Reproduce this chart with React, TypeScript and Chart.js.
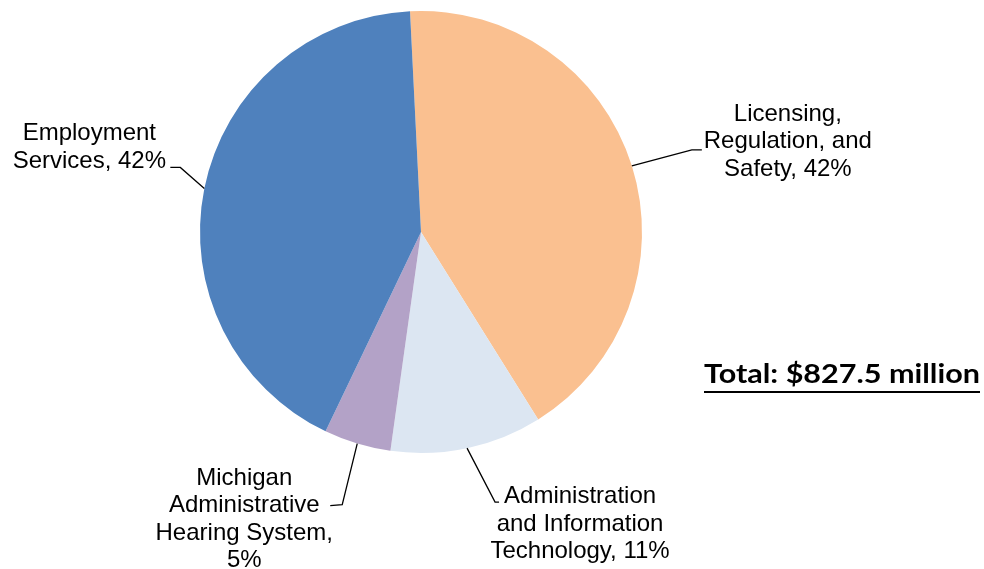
import React, { useEffect, useRef } from "react";
import { Chart, registerables } from "chart.js";

Chart.register(...registerables);

const categories = [
  "Licensing, Regulation, and Safety",
  "Administration and Information Technology",
  "Michigan Administrative Hearing System",
  "Employment Services",
];
const values = [346.7, 91.9, 40.5, 348.4];
const labelLines = [
  ["Licensing,", "Regulation, and", "Safety, 42%"],
  ["Administration", "and Information", "Technology, 11%"],
  ["Michigan", "Administrative", "Hearing System,", "5%"],
  ["Employment", "Services, 42%"],
];
const colors = ["#FAC090", "#DCE6F2", "#B3A2C7", "#4F81BD"];
const totalText = "Total: $827.5 million";

// layout offsets relative to each slice's outer mid-point (styling only)
const leaderLayout = [
  { elbow: [60, -16], end: [70, -16], text: [156, -24] },
  { elbow: [28, 54], end: [32, 54], text: [113, 76] },
  { elbow: [-15, 61], end: [-27, 62], text: [-113, 76] },
  { elbow: [-24, -21], end: [-34, -21], text: [-115, -41] },
];

const labelPlugin = {
  id: "leaderLabels",
  afterDraw(chart: any) {
    const ctx = chart.ctx as CanvasRenderingContext2D;
    const meta = chart.getDatasetMeta(0);
    ctx.save();
    meta.data.forEach((arc: any, i: number) => {
      const mid = (arc.startAngle + arc.endAngle) / 2;
      const ex = arc.x + Math.cos(mid) * arc.outerRadius;
      const ey = arc.y + Math.sin(mid) * arc.outerRadius;
      const L = leaderLayout[i];
      ctx.strokeStyle = "#000";
      ctx.lineWidth = 1.3;
      ctx.beginPath();
      ctx.moveTo(ex, ey);
      ctx.lineTo(ex + L.elbow[0], ey + L.elbow[1]);
      ctx.lineTo(ex + L.end[0], ey + L.end[1]);
      ctx.stroke();
      const lines = labelLines[i];
      const lh = 27.5;
      const cx = ex + L.text[0];
      const cy = ey + L.text[1];
      ctx.fillStyle = "#000";
      ctx.font = "24px 'Liberation Sans', Arial, sans-serif";
      ctx.textAlign = "center";
      ctx.textBaseline = "middle";
      lines.forEach((t, k) => {
        ctx.fillText(t, cx, cy + (k - (lines.length - 1) / 2) * lh);
      });
    });
    // total
    ctx.font = "bold 26px Lato, 'Open Sans', sans-serif";
    ctx.textAlign = "left";
    ctx.textBaseline = "alphabetic";
    const w = ctx.measureText(totalText).width;
    const targetW = 276;
    const left = 704;
    ctx.save();
    ctx.translate(left, 383);
    ctx.scale(targetW / w, 1);
    ctx.fillText(totalText, 0, 0);
    ctx.restore();
    ctx.fillRect(left, 391, targetW, 2);
    ctx.restore();
  },
};

export default function App() {
  const ref = useRef<HTMLCanvasElement | null>(null);
  useEffect(() => {
    if (!ref.current) return;
    const chart = new Chart(ref.current, {
      type: "pie",
      data: {
        labels: categories,
        datasets: [
          {
            data: values,
            backgroundColor: colors,
            borderWidth: 0,
          },
        ],
      },
      options: {
        animation: false,
        responsive: false,
        rotation: -2.85,
        layout: { padding: { left: 200, top: 11, right: 342, bottom: 116 } },
        plugins: {
          legend: { display: false },
          tooltip: { enabled: false },
          title: { display: false },
        },
      },
      plugins: [labelPlugin],
    });
    return () => chart.destroy();
  }, []);
  return (
    <div style={{ position: "absolute", left: 0, top: 0, width: 984, height: 569, background: "#fff" }}>
      <canvas ref={ref} width={984} height={569} style={{ width: 984, height: 569 }} />
    </div>
  );
}
